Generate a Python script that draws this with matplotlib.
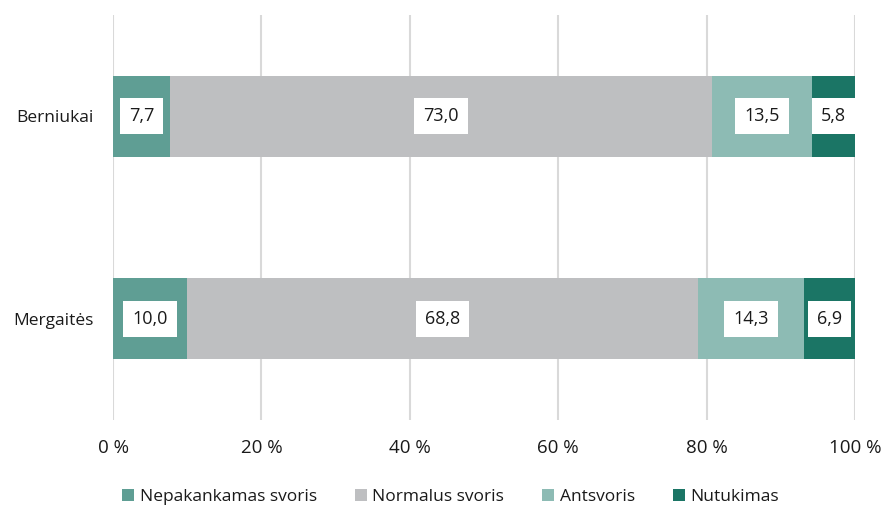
import matplotlib
matplotlib.use("Agg")
import matplotlib.pyplot as plt
import numpy as np

plt.rcParams['font.family'] = ['Open Sans', 'DejaVu Sans']

categories = ["Berniukai", "Mergaitės"]
series_names = ["Nepakankamas svoris", "Normalus svoris", "Antsvoris", "Nutukimas"]
values = {
    "Nepakankamas svoris": [7.7, 10.0],
    "Normalus svoris": [73.0, 68.8],
    "Antsvoris": [13.5, 14.3],
    "Nutukimas": [5.8, 6.9],
}
colors = ["#5f9e94", "#bebfc1", "#8dbbb4", "#1b7565"]
xticks = [0, 20, 40, 60, 80, 100]

fig = plt.figure(figsize=(8.85, 5.05), dpi=100)
ax = fig.add_axes([113/885, 1-420/505, (855-113)/885, (420-15)/505])

ypos = [1, 0]
left = np.zeros(len(categories))
for name, col in zip(series_names, colors):
    vals = np.array(values[name])
    ax.barh(ypos, vals, left=left, height=0.4, color=col, zorder=2, label=name)
    for y, l, v in zip(ypos, left, vals):
        ax.text(l + v/2, y, f"{v:.1f}".replace('.', ','), ha='center', va='center',
                fontsize=13, color='#1a1a1a', zorder=3,
                bbox=dict(boxstyle='square,pad=0.5', fc='white', ec='none'))
    left += vals

ax.set_xlim(0, 100)
ax.set_ylim(-0.5, 1.5)
ax.set_xticks(xticks)
ax.set_xticklabels([f"{t} %" for t in xticks], fontsize=13.5, color='#1a1a1a')
ax.set_yticks(ypos)
ax.set_yticklabels(categories, fontsize=12.5, color='#1a1a1a')
ax.tick_params(axis='both', length=0)
ax.tick_params(axis='x', pad=14)
ax.tick_params(axis='y', pad=14)
for s in ax.spines.values():
    s.set_visible(False)
ax.grid(axis='x', color='#d9d9d9', linewidth=1.5, zorder=0)
ax.set_axisbelow(True)

ax.legend(loc='center', bbox_to_anchor=(0.455, -0.19), ncol=4, frameon=False,
          fontsize=12.5, handlelength=0.7, handleheight=0.7, handletextpad=0.3,
          columnspacing=2.2, labelcolor='#1a1a1a', borderpad=0)

fig.savefig("out.png", dpi=100)
